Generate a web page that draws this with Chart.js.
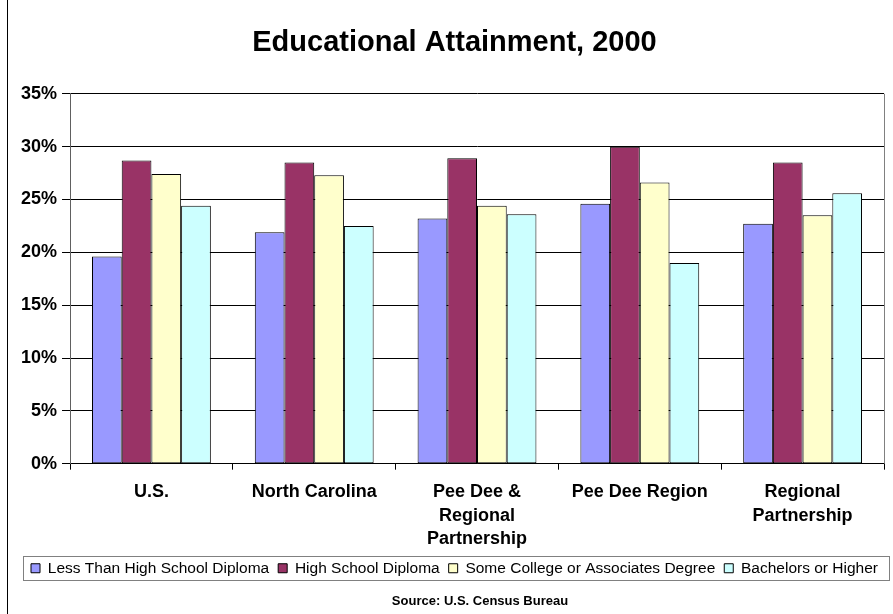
<!DOCTYPE html>
<html>
<head>
<meta charset="utf-8">
<script src="https://cdn.jsdelivr.net/npm/chart.js@4"></script>
<style>
  html, body { margin: 0; padding: 0; background: #fff; }
  #wrap { width: 893px; height: 614px; }
</style>
</head>
<body>
<div id="wrap"><canvas id="eduChart" width="893" height="614"></canvas></div>
<script>
// regions on the x axis
const regions = [
  'U.S.',
  'North Carolina',
  ['Pee Dee &', 'Regional', 'Partnership'],
  'Pee Dee Region',
  ['Regional', 'Partnership']
];

// share of adults (%) by education level
const lessThanHS = [19.6, 21.9, 23.2, 24.6, 22.7];
const highSchool = [28.7, 28.5, 28.9, 30.0, 28.5];
const someCollege = [27.4, 27.3, 24.4, 26.6, 23.5];
const bachelors = [24.4, 22.5, 23.6, 19.0, 25.6];

const yTicks = [0, 5, 10, 15, 20, 25, 30, 35];

const font = 'Arial, "Liberation Sans", sans-serif';

// left frame line, plot box edge, legend box and the source note
const framePlugin = {
  id: 'frame',
  afterDraw(chart) {
    const c = chart.ctx;
    const a = chart.chartArea;
    c.save();
    c.lineWidth = 1;
    c.strokeStyle = '#808080';
    c.beginPath();
    c.moveTo(Math.round(a.right) + 0.5, a.top);
    c.lineTo(Math.round(a.right) + 0.5, a.bottom);
    c.stroke();

    c.strokeStyle = '#000';
    c.beginPath();
    c.moveTo(7.5, 0);
    c.lineTo(7.5, chart.height);
    c.stroke();

    const lg = chart.legend;
    const hb = lg.legendHitBoxes;
    const mid = Math.round(hb[0].top + hb[0].height / 2);
    c.strokeStyle = '#808080';
    c.strokeRect(23.5, mid - 12 + 0.5, 866, 24);

    c.fillStyle = '#000';
    c.font = 'bold 13px ' + font;
    c.textAlign = 'center';
    c.textBaseline = 'middle';
    c.fillText('Source: U.S. Census Bureau', 480, 601);
    c.restore();
  }
};

new Chart(document.getElementById('eduChart'), {
  type: 'bar',
  data: {
    labels: regions,
    datasets: [
      { label: 'Less Than High School Diploma', data: lessThanHS, backgroundColor: '#9999FF' },
      { label: 'High School Diploma', data: highSchool, backgroundColor: '#993366' },
      { label: 'Some College or Associates Degree', data: someCollege, backgroundColor: '#FFFFCC' },
      { label: 'Bachelors or Higher', data: bachelors, backgroundColor: '#CCFFFF' }
    ].map(d => Object.assign(d, { borderColor: '#000', borderWidth: 1, borderSkipped: false, yAxisID: 'y' }))
  },
  options: {
    responsive: false,
    animation: false,
    devicePixelRatio: 1,
    layout: { padding: { left: 16, right: 0, top: 0, bottom: 28 } },
    datasets: { bar: { categoryPercentage: 0.73, barPercentage: 1 } },
    plugins: {
      title: {
        display: true,
        text: 'Educational Attainment, 2000',
        color: '#000',
        font: { family: font, size: 29, weight: 'bold' },
        padding: { top: 26, bottom: 33 }
      },
      legend: {
        position: 'bottom',
        labels: {
          color: '#000',
          font: { family: font, size: 15.5 },
          boxWidth: 9,
          boxHeight: 9,
          padding: 9
        }
      },
      tooltip: { enabled: false }
    },
    scales: {
      x: {
        grid: { offset: true, drawOnChartArea: false, color: '#000', tickLength: 6 },
        border: { color: '#000' },
        ticks: { color: '#000', font: { family: font, size: 18, weight: 'bold', lineHeight: 1.33 }, maxRotation: 0, padding: 10 },
        afterFit(s) { s.height -= 10; }
      },
      y: {
        min: yTicks[0],
        max: yTicks[yTicks.length - 1],
        afterBuildTicks(axis) { axis.ticks = yTicks.map(v => ({ value: v })); },
        grid: { color: '#000', tickLength: 8 },
        border: { color: '#606060' },
        ticks: { color: '#000', font: { family: font, size: 18, weight: 'bold' }, padding: 5, callback: v => v + '%' }
      },
      // empty strip that keeps the plot off the right edge
      pad: {
        type: 'linear',
        position: 'right',
        grid: { display: false },
        border: { display: false },
        ticks: { display: false },
        afterFit(s) { s.width = 9; }
      }
    }
  },
  plugins: [framePlugin]
});
</script>
</body>
</html>
